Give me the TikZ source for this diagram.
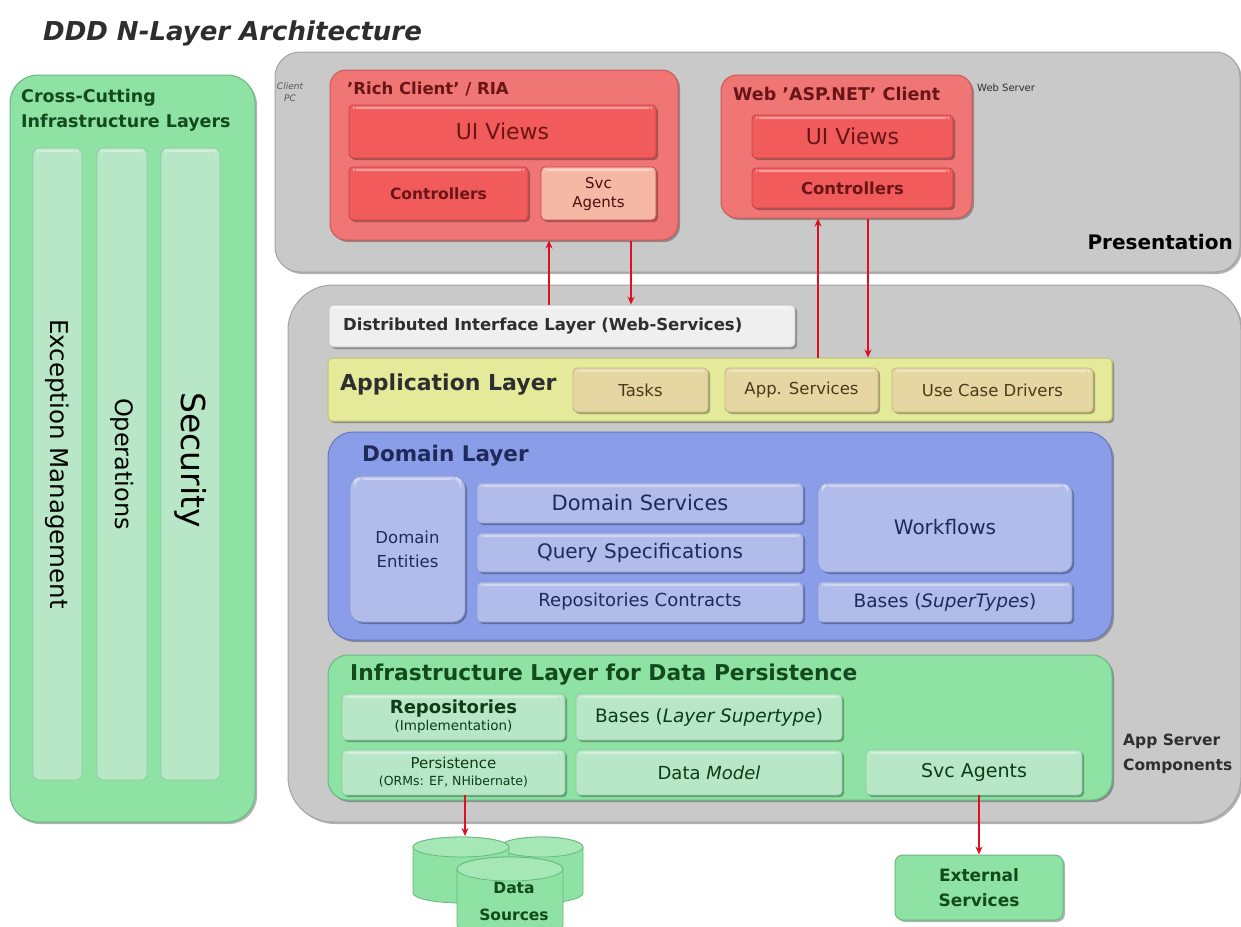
\documentclass[tikz,border=0pt]{standalone}
\usepackage{fontspec}
\setmainfont{DejaVu Sans}
\usetikzlibrary{arrows.meta,shadows}
\definecolor{grayF}{HTML}{C9C9C9}
\definecolor{grayD}{HTML}{A3A3A3}
\definecolor{redO}{HTML}{F07676}
\definecolor{redOD}{HTML}{D25454}
\definecolor{redI}{HTML}{F25B5B}
\definecolor{redID}{HTML}{C84444}
\definecolor{salmon}{HTML}{F5B8A4}
\definecolor{redT}{HTML}{6A1515}
\definecolor{greenO}{HTML}{8EE2A3}
\definecolor{greenOD}{HTML}{68B980}
\definecolor{greenI}{HTML}{B8E7C7}
\definecolor{greenID}{HTML}{8CCB9F}
\definecolor{greenT}{HTML}{134A1D}
\definecolor{yellowO}{HTML}{E4EA9A}
\definecolor{yellowD}{HTML}{BEC36A}
\definecolor{tan}{HTML}{E6D6A2}
\definecolor{tanD}{HTML}{C6B585}
\definecolor{tanT}{HTML}{4A3B1A}
\definecolor{blueO}{HTML}{8A9DE8}
\definecolor{blueD}{HTML}{6478C6}
\definecolor{blueI}{HTML}{B2BCEA}
\definecolor{blueID}{HTML}{8E9AD2}
\definecolor{navy}{HTML}{1E2A5A}
\definecolor{distF}{HTML}{EFEFEF}
\definecolor{distD}{HTML}{BDBDBD}
\definecolor{darkT}{HTML}{2E2E2E}
\definecolor{arrowR}{HTML}{DD1020}
\newcommand\fz[2]{\fontsize{#1}{#2}\selectfont}
\newcommand\bx[7]{%
  \pgfmathsetmacro\bw{#4-#2}\pgfmathsetmacro\bh{#5-#3}%
  \pgfmathsetmacro\bcx{(#2+#4)/2}\pgfmathsetmacro\bcy{(#3+#5)/2}%
  \node[bxbase, #6, minimum width=\bw pt, minimum height=\bh pt] (#1) at (\bcx,\bcy) {#7};}
\tikzset{
  shad/.style={drop shadow={shadow xshift=2pt,shadow yshift=-2pt,opacity=0.3,fill=black}},
  hl/.style={path picture={\fill[white,opacity=0.4] ([xshift=4pt,yshift=-1.5pt]path picture bounding box.north west) rectangle ([xshift=-4pt,yshift=-4pt]path picture bounding box.north east);}},
  bxbase/.style={inner sep=0pt, rounded corners=4pt},
  graypanel/.style={fill=grayF, draw=grayD, line width=1pt, shad},
  redouter/.style={fill=redO, draw=redOD, line width=1pt, shad},
  redinner/.style={fill=redI, draw=redID, line width=0.8pt, text=redT, shad, hl},
  svcpale/.style={fill=salmon, draw=redID, line width=0.8pt, text=redT!70!black, shad, hl},
  greenouter/.style={fill=greenO, draw=greenOD, line width=1pt, text=greenT, shad},
  greencol/.style={fill=greenI, draw=greenID, line width=0.8pt, rounded corners=6pt, hl},
  greeninner/.style={fill=greenI, draw=greenID, line width=0.8pt, text=greenT!80!black, shad, hl},
  yellowbox/.style={fill=yellowO, draw=yellowD, line width=1pt, shad},
  tanbox/.style={fill=tan, draw=tanD, line width=0.8pt, text=tanT, shad, hl},
  bluebox/.style={fill=blueO, draw=blueD, line width=1pt, shad},
  blueinner/.style={fill=blueI, draw=blueID, line width=0.8pt, text=navy, shad, hl},
  distbox/.style={fill=distF, draw=distD, line width=0.8pt, shad},
  rarrow/.style={draw=arrowR, line width=2.2pt, -{Stealth[length=8pt,width=7pt]}},
  cyl/.style={fill=greenO, draw=greenOD, line width=0.8pt},
  cyltop/.style={fill=greenO!80!white, draw=greenOD, line width=0.8pt},
}
\begin{document}
\begin{tikzpicture}[x=1pt,y=-1pt]
\useasboundingbox (0,0) rectangle (1241,926);
\fill[white] (0,0) rectangle (1241,926);

% title
\node[anchor=base west, inner sep=0pt, font=\fz{26}{30}\bfseries\itshape, text=darkT] (title) at (43,40) {DDD N-Layer Architecture};

% cross-cutting panel
\bx{cross}{10}{75}{255}{822}{greenouter, rounded corners=28pt}{}
\node[anchor=north west, inner sep=0pt, align=left, font=\fz{17.5}{25}\bfseries, text=greenT] (crosst) at (21,89) {Cross-Cutting\\Infrastructure Layers};
\bx{exc}{33}{148}{82}{780}{greencol}{}
\bx{ops}{97}{148}{147}{780}{greencol}{}
\bx{sec}{161}{148}{220}{780}{greencol}{}
\node[rotate=-90, font=\fz{24.5}{28}, text=black] (exct) at (exc.center) {Exception Management};
\node[rotate=-90, font=\fz{24}{28}, text=black] (opst) at (ops.center) {Operations};
\node[rotate=-90, font=\fz{33}{36}, text=black] (sect) at ([yshift=4pt]sec.center) {Security};

% presentation panel
\bx{pres}{275}{52}{1240}{272}{graypanel, rounded corners=25pt}{}
\node[align=center, inner sep=0pt, font=\fz{9}{12}\itshape, text=darkT!80] (cpc) at (290,92) {Client\\PC};
\bx{rich}{330}{70}{678}{240}{redouter, rounded corners=16pt}{}
\node[anchor=base west, inner sep=0pt, font=\fz{16.5}{20}\bfseries, text=redT] (richt) at (347,94) {'Rich Client' / RIA};
\bx{rui}{349}{105}{656}{158}{redinner, font=\fz{22}{26}}{UI Views}
\bx{rctl}{349}{167}{528}{220}{redinner, font=\fz{15.5}{18}\bfseries}{Controllers}
\bx{rsvc}{541}{167}{656}{220}{svcpale, align=center, font=\fz{15}{19}}{Svc\\Agents}

\bx{web}{721}{75}{972}{218}{redouter, rounded corners=16pt}{}
\node[anchor=base west, inner sep=0pt, font=\fz{17.5}{20}\bfseries, text=redT] (webt) at (733,100) {Web 'ASP.NET' Client};
\bx{wui}{752}{115}{953}{158}{redinner, font=\fz{22}{26}}{UI Views}
\bx{wctl}{752}{168}{953}{208}{redinner, font=\fz{16.5}{19}\bfseries}{Controllers}
\node[anchor=base west, inner sep=0pt, font=\fz{10}{12}, text=darkT] (wst) at (977,91) {Web Server};
\node[anchor=base east, inner sep=0pt, font=\fz{20}{24}\bfseries, text=black] (prest) at (1233,249) {Presentation};

% app server panel
\bx{app}{288}{285}{1241}{822}{graypanel, rounded corners=45pt}{}
\bx{dil}{329}{305}{795}{347}{distbox, hl}{}
\node[anchor=west, inner sep=0pt, font=\fz{16.5}{20}\bfseries, text=darkT] (dilt) at (343,326) {Distributed Interface Layer (Web-Services)};

\bx{applay}{328}{358}{1112}{421}{yellowbox}{}
\node[anchor=base west, inner sep=0pt, font=\fz{22}{26}\bfseries, text=darkT] (applt) at (340,390) {Application Layer};
\bx{tasks}{573}{368}{708}{412}{tanbox, font=\fz{16.5}{20}}{Tasks}
\bx{appsvc}{725}{368}{878}{412}{tanbox, font=\fz{16.5}{20}}{App. Services}
\bx{ucd}{892}{368}{1093}{412}{tanbox, font=\fz{16.5}{20}}{Use Case Drivers}

\bx{dom}{328}{432}{1112}{640}{bluebox, rounded corners=25pt}{}
\node[anchor=base west, inner sep=0pt, font=\fz{21.5}{25}\bfseries, text=navy] (domt) at (362,461) {Domain Layer};
\bx{dent}{350}{476}{465}{622}{blueinner, rounded corners=12pt, align=center, font=\fz{16.5}{24}}{Domain\\Entities}
\bx{dsvc}{477}{483}{803}{523}{blueinner, font=\fz{21}{24}}{Domain Services}
\bx{qspec}{477}{533}{803}{572}{blueinner, font=\fz{20}{24}}{Query Specifications}
\bx{rcon}{477}{582}{803}{622}{blueinner, font=\fz{18}{21}}{Repositories Contracts}
\bx{wf}{818}{483}{1072}{572}{blueinner, rounded corners=10pt, font=\fz{20}{24}}{Workflows}
\bx{bst}{818}{582}{1072}{622}{blueinner, font=\fz{18.5}{22}}{Bases (\textit{SuperTypes})}

\bx{infra}{328}{655}{1112}{800}{greenouter, rounded corners=20pt}{}
\node[anchor=base west, inner sep=0pt, font=\fz{21.8}{25}\bfseries, text=greenT] (infrat) at (350,680) {Infrastructure Layer for Data Persistence};
\bx{repo}{342}{694}{565}{740}{greeninner, align=center, font=\fz{13.5}{17}}{{\fz{18}{20}\bfseries Repositories}\\(Implementation)}
\bx{pers}{342}{750}{565}{795}{greeninner, align=center, font=\fz{12.5}{17}}{{\fz{15}{17}Persistence}\\(ORMs: EF, NHibernate)}
\bx{blst}{576}{694}{842}{740}{greeninner, font=\fz{18.5}{22}}{Bases (\textit{Layer Supertype})}
\bx{dmod}{576}{750}{842}{795}{greeninner, font=\fz{18}{22}}{Data \textit{Model}}
\bx{isvc}{866}{750}{1082}{795}{greeninner, font=\fz{19}{22}}{Svc Agents}
\node[anchor=north west, inner sep=0pt, align=left, font=\fz{15.5}{25}\bfseries, text=darkT] (asc) at (1123,734) {App Server\\Components};

% data sources (cylinders)
\draw[cyl] (500,847) -- (500,893) arc[start angle=180,end angle=360,x radius=41.5pt,y radius=10pt] -- (583,847) arc[start angle=0,end angle=180,x radius=41.5pt,y radius=10pt] -- cycle;
\draw[cyltop] (541.5,847) ellipse [x radius=41.5pt, y radius=10pt];
\draw[cyl] (413,847) -- (413,893) arc[start angle=180,end angle=360,x radius=48pt,y radius=10pt] -- (509,847) arc[start angle=0,end angle=180,x radius=48pt,y radius=10pt] -- cycle;
\draw[cyltop] (461,847) ellipse [x radius=48pt, y radius=10pt];
\draw[cyl] (457,869) -- (457,925) arc[start angle=180,end angle=360,x radius=53pt,y radius=12pt] -- (563,869) arc[start angle=0,end angle=180,x radius=53pt,y radius=12pt] -- cycle;
\draw[cyltop] (510,869) ellipse [x radius=53pt, y radius=12pt];
\node[align=center, inner sep=0pt, font=\fz{15.5}{27}\bfseries, text=greenT] (dst) at (514,901) {Data\\Sources};
\coordinate (dsTop) at (465,836);

\bx{ext}{895}{855}{1063}{920}{greenouter, rounded corners=8pt, align=center, font=\fz{17}{25}\bfseries}{External\\Services}

% connectors
\coordinate (xa) at (549,0);
\coordinate (xb) at (631,0);
\coordinate (xc) at (818,0);
\coordinate (xd) at (868,0);
\coordinate (xe) at (465,0);
\draw[rarrow] (dil.north -| xa) -- (rich.south -| xa);
\draw[rarrow] (rich.south -| xb) -- (dil.north -| xb);
\draw[rarrow] (applay.north -| xc) -- (web.south -| xc);
\draw[rarrow] (web.south -| xd) -- (applay.north -| xd);
\draw[rarrow] (pers.south -| xe) -- (dsTop);
\draw[rarrow] (isvc.south -| ext.north) -- (ext.north);
\end{tikzpicture}
\end{document}
